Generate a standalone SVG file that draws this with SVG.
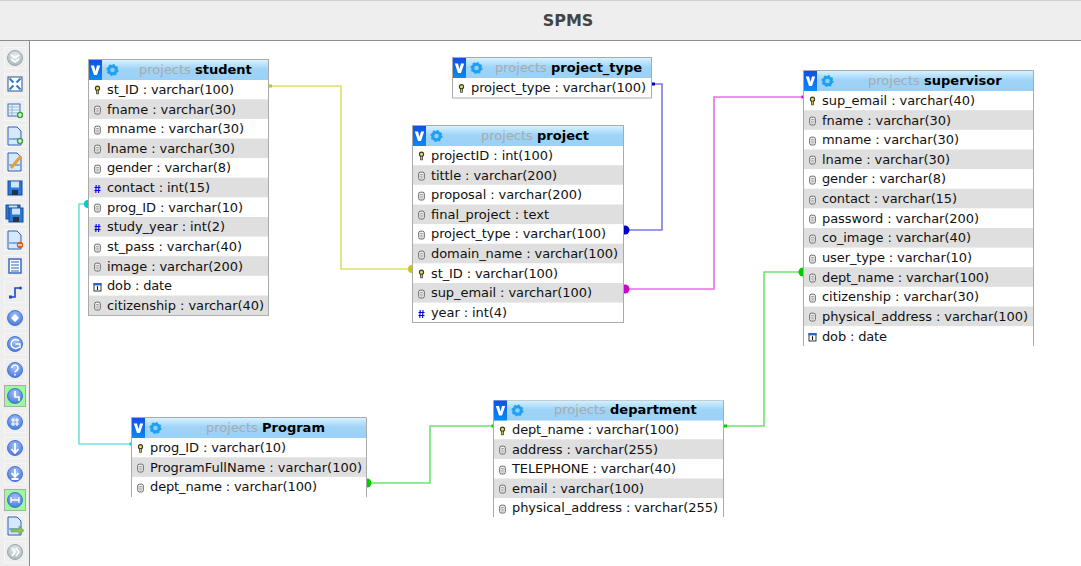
<svg xmlns="http://www.w3.org/2000/svg" width="1081" height="566" viewBox="0 0 1081 566">
<style>
text{font-family:"DejaVu Sans",sans-serif;font-size:13px;fill:#111}
.title{font-size:16px;font-weight:bold;fill:#444;text-anchor:middle}
.hd{fill:#aaa;font-size:13px}
.hd tspan{fill:#000;font-weight:bold}
.box{fill:#fff;stroke:#aaa;stroke-width:1}
.edge{fill:none;stroke:#aaa;stroke-width:1}
.gray{fill:#dfdfdf}
.wire{fill:none;stroke-width:1.6}
.btn{fill:#eee;stroke:#fff;stroke-width:1;stroke-dasharray:1 1}
.on{fill:#99fb99;stroke:#aaa;stroke-width:1}
</style>
<defs>
<linearGradient id="hg" x1="0" y1="0" x2="0" y2="1"><stop offset="0" stop-color="#d6f2ff"/><stop offset=".45" stop-color="#9fd4f8"/><stop offset="1" stop-color="#9bd1f7"/></linearGradient>
<linearGradient id="vg" x1="0" y1="0" x2="0" y2="1"><stop offset="0" stop-color="#0f4fe8"/><stop offset="1" stop-color="#0a8cf4"/></linearGradient>
<radialGradient id="bl" cx=".5" cy=".35" r=".7"><stop offset="0" stop-color="#a9c4f2"/><stop offset="1" stop-color="#3f72d8"/></radialGradient>
<radialGradient id="gy" cx=".5" cy=".35" r=".7"><stop offset="0" stop-color="#e8eeee"/><stop offset="1" stop-color="#a5b3b8"/></radialGradient>
<g id="vb"><rect x="0" y="0" width="13" height="20" fill="url(#vg)"/><path d="M1.8 5.5H5L6.5 11L8 5.5H11.200L8 15H5Z" fill="#fff"/></g>
<g id="gear"><circle r="3.800" fill="#8fd0f8" stroke="#1fa0f0" stroke-width="3"/><circle r="5.400" fill="none" stroke="#1fa0f0" stroke-width="1.300" stroke-dasharray="2 2.200"/></g>
<g id="col"><rect x="-2.800" y="-3.800" width="5.600" height="7.800" rx="1.600" fill="#f4f4f4" stroke="#666" stroke-width="1"/><path d="M-1.300 -1.500H1.300M-1.300 .2H1.300M-1.300 1.900H1.300" stroke="#888" stroke-width=".8"/></g>
<g id="key"><circle cy="-1.800" r="2.100" fill="#e8de50" stroke="#3a3a2a" stroke-width="1.100"/><path d="M0 0V4.200" stroke="#3a3a2a" stroke-width="2.600"/><path d="M0 .5V3.500" stroke="#e8de50" stroke-width=".8"/></g>
<g id="num"><path d="M-1.300 -4L-1.700 4M1.500 -4L1.100 4M-3 -1.500H3M-3 1.500H3" stroke="#0000f0" stroke-width="1.100" fill="none"/></g>
<g id="date"><rect x="-3.500" y="-3.500" width="7" height="7.500" fill="#fff" stroke="#222" stroke-width=".9"/><rect x="-3.900" y="-4" width="7.800" height="2.400" fill="#2a62d8"/><path d="M0 -.8V3" stroke="#111" stroke-width="1.100"/></g>
<g id="page"><path d="M-6 -9H3L7 -5V9H-6Z" fill="#d6e8fb" stroke="#2a62b8" stroke-width="1"/><rect x="-5.500" y="2" width="12" height="2" fill="#7db0ea"/></g>
<g id="rnd"><circle r="7.500" fill="url(#bl)" stroke="#4a78d8" stroke-width="1"/></g>
<g id="rgy"><circle r="7.500" fill="url(#gy)" stroke="#9aa8ad" stroke-width="1"/></g>
<g id="plus"><circle r="3.200" fill="#3fa344"/><path d="M-2 0H2M0 -2V2" stroke="#fff" stroke-width="1.200"/></g>
<g id="floppy"><rect x="-7" y="-7" width="14" height="14" fill="#2a78d8" stroke="#1a4a98" stroke-width="1"/><rect x="-4" y="-6.500" width="8" height="6" fill="#cfe4fa"/><rect x="-3" y="2" width="6" height="5" fill="#234"/></g>
</defs>

<rect width="1081" height="566" fill="#fff"/>
<rect width="1081" height="40" fill="#eeeeee"/>
<rect width="1081" height="1" fill="#cfcfcf"/>
<rect y="40" width="1081" height="1" fill="#8c8c8c"/>
<text class="title" x="568" y="26">SPMS</text>

<g id="toolbar">
<rect y="41" width="29.500" height="525" fill="#eee"/>
<rect x="29" y="41" width="1" height="525" fill="#8c8c8c"/>
<rect class="btn" x="4.500" y="47.500" width="21" height="21"/><use href="#rgy" x="15" y="58"/><path d="M11 55l4 3 4-3M11 59l4 3 4-3" fill="none" stroke="#fff" stroke-width="1.600"/>
<rect class="btn" x="4.500" y="73.500" width="21" height="21"/><rect x="8" y="77" width="14" height="14" fill="#fff" stroke="#33507a" stroke-width="1"/><path d="M9.500 78.500l4 4M20.500 78.500l-4 4M9.500 89.500l4-4M20.500 89.500l-4-4" stroke="#2a78d8" stroke-width="2"/>
<rect class="btn" x="4.500" y="99.500" width="21" height="21"/><rect x="8" y="104" width="12" height="12" fill="#eaf3fb" stroke="#3a70b8" stroke-width="1"/><path d="M8 107H20M8 110H20M8 113H20M12 104V116" stroke="#7fa8d8" stroke-width=".8"/><use href="#plus" x="20" y="115"/>
<rect class="btn" x="4.500" y="125.500" width="21" height="21"/><use href="#page" x="14" y="136"/><use href="#plus" x="20" y="141"/>
<rect class="btn" x="4.500" y="151.500" width="21" height="21"/><use href="#page" x="14" y="162"/><path d="M11 168L21 156" stroke="#e8a030" stroke-width="3"/>
<rect class="btn" x="4.500" y="177.500" width="21" height="21"/><use href="#floppy" x="15" y="188"/>
<rect class="btn" x="4.500" y="203.500" width="21" height="21"/><use href="#floppy" x="13" y="212"/><use href="#floppy" x="16" y="215"/>
<rect class="btn" x="4.500" y="229.500" width="21" height="21"/><use href="#page" x="14" y="240"/><circle cx="20" cy="245" r="3.200" fill="#d8601a"/><path d="M18 245H22" stroke="#fff" stroke-width="1.200"/>
<rect class="btn" x="4.500" y="255.500" width="21" height="21"/><rect x="9" y="259" width="12" height="14" fill="#fff" stroke="#2a62b8" stroke-width="1.400"/><path d="M11 262H19M11 265H19M11 268H19M11 271H19" stroke="#2a62b8" stroke-width="1"/>
<rect class="btn" x="4.500" y="281.500" width="21" height="21"/><path d="M10 297H15V288H20" fill="none" stroke="#1a4ac8" stroke-width="1.600"/><rect x="9" y="295.500" width="3" height="3" fill="#1a4ac8"/><circle cx="20.500" cy="288" r="1.500" fill="#1a4ac8"/>
<rect class="btn" x="4.500" y="307.500" width="21" height="21"/><use href="#rnd" x="15" y="318"/><path d="M15 314l4 4-4 4-4-4Z" fill="#fff"/>
<rect class="btn" x="4.500" y="333.500" width="21" height="21"/><use href="#rnd" x="15" y="344"/><path d="M19 341a4.500 4.500 0 1 0 0 6M15.500 344H20V348" fill="none" stroke="#fff" stroke-width="1.500"/>
<rect class="btn" x="4.500" y="359.500" width="21" height="21"/><use href="#rnd" x="15" y="370"/><path d="M12 368a3 3 0 1 1 4.500 2.600c-1 .6-1.500 1-1.500 2M15 374v1.500" fill="none" stroke="#fff" stroke-width="1.600"/>
<rect class="on" x="4.500" y="385.500" width="21" height="21"/><use href="#rnd" x="15" y="396"/><path d="M15 391V397H19V401" fill="none" stroke="#fff" stroke-width="1.600"/>
<rect class="btn" x="4.500" y="411.500" width="21" height="21"/><use href="#rnd" x="15" y="422"/><path d="M13 418V426M17 418V426M11 420H19M11 424H19" fill="none" stroke="#fff" stroke-width="1.100"/>
<rect class="btn" x="4.500" y="437.500" width="21" height="21"/><use href="#rnd" x="15" y="448"/><path d="M15 443V452M11.500 449L15 453L18.500 449" fill="none" stroke="#fff" stroke-width="1.800"/>
<rect class="btn" x="4.500" y="463.500" width="21" height="21"/><use href="#rnd" x="15" y="474"/><path d="M15 469V476M11.500 473L15 477L18.500 473M11.500 479H18.500" fill="none" stroke="#fff" stroke-width="1.800"/>
<rect class="on" x="4.500" y="489.500" width="21" height="21"/><use href="#rnd" x="15" y="500"/><path d="M11 497V503M19 497V503M11 500H19" fill="none" stroke="#fff" stroke-width="1.300"/>
<rect class="btn" x="4.500" y="515.500" width="21" height="21"/><use href="#page" x="14" y="526"/><path d="M11 529H19V526L24 530.500L19 535V532H11Z" fill="#8fbf5f" stroke="#6a9a40" stroke-width=".6"/>
<rect class="btn" x="4.500" y="541.500" width="21" height="21"/><use href="#rgy" x="15" y="552"/><path d="M12 548l3 4-3 4M16 548l3 4-3 4" fill="none" stroke="#fff" stroke-width="1.600"/>
</g>

<g id="connectors">
<path class="wire" stroke="#dede6a" d="M269 86H341V269H412"/><rect x="269" y="84.500" width="3" height="3" fill="#c8c800"/><circle cx="412" cy="269" r="4" fill="#c8c800"/>
<path class="wire" stroke="#7a7ae6" d="M652 84H662V230H624"/><rect x="652" y="82.500" width="3" height="3" fill="#0000cc"/><circle cx="625" cy="230" r="4.500" fill="#0000cc"/>
<path class="wire" stroke="#e272e2" d="M624 289H714V97H803"/><circle cx="625" cy="289" r="4.500" fill="#cc00cc"/><rect x="801.500" y="95.500" width="2" height="3" fill="#cc00cc"/>
<path class="wire" stroke="#72e2e2" d="M88 204H79V444H131"/><circle cx="88" cy="204" r="4" fill="#00cccc"/><rect x="129.500" y="442.500" width="2" height="3" fill="#00cccc"/>
<path class="wire" stroke="#6ee26e" d="M367 483H430V426H493"/><circle cx="367" cy="483" r="4.500" fill="#00cc00"/><rect x="491.500" y="424.500" width="2" height="3" fill="#00cc00"/>
<path class="wire" stroke="#6ee26e" d="M724 426H764V272H803"/><rect x="724" y="424.500" width="3" height="3" fill="#00cc00"/><circle cx="803" cy="272" r="4.500" fill="#00cc00"/>
</g>

<g id="student">
<rect class="box" x="88.500" y="59.500" width="180" height="256"/>
<rect x="89" y="60" width="179" height="20" fill="url(#hg)"/>
<use href="#vb" x="89" y="60"/><use href="#gear" x="112.500" y="70"/>
<text class="hd" x="139" y="74">projects <tspan>student</tspan></text>
<rect class="gray" x="89" y="99.300" width="179" height="19.600"/><rect class="gray" x="89" y="138.500" width="179" height="19.600"/><rect class="gray" x="89" y="177.700" width="179" height="19.600"/><rect class="gray" x="89" y="217" width="179" height="19.600"/><rect class="gray" x="89" y="256.200" width="179" height="19.600"/><rect class="gray" x="89" y="295.500" width="179" height="19.600"/>
<use href="#key" x="97.500" y="90"/><use href="#col" x="97.500" y="110"/><use href="#col" x="97.500" y="130"/><use href="#col" x="97.500" y="149"/><use href="#col" x="97.500" y="169"/><use href="#num" x="97.500" y="189"/><use href="#col" x="97.500" y="208"/><use href="#num" x="97.500" y="228"/><use href="#col" x="97.500" y="248"/><use href="#col" x="97.500" y="267"/><use href="#date" x="97.500" y="287"/><use href="#col" x="97.500" y="306"/>
<text x="107" y="94" textLength="127">st_ID : varchar(100)</text>
<text x="107" y="114" textLength="129">fname : varchar(30)</text>
<text x="107" y="133" textLength="137">mname : varchar(30)</text>
<text x="107" y="153" textLength="128">lname : varchar(30)</text>
<text x="107" y="172" textLength="124">gender : varchar(8)</text>
<text x="107" y="192" textLength="103">contact : int(15)</text>
<text x="107" y="212" textLength="136">prog_ID : varchar(10)</text>
<text x="107" y="231" textLength="118">study_year : int(2)</text>
<text x="107" y="251" textLength="135">st_pass : varchar(40)</text>
<text x="107" y="271" textLength="136">image : varchar(200)</text>
<text x="107" y="290" textLength="65">dob : date</text>
<text x="107" y="310" textLength="157">citizenship : varchar(40)</text>
</g>

<g id="project_type">
<rect class="box" x="452.500" y="57.500" width="199" height="40.500"/>
<rect x="453" y="58" width="198" height="20" fill="url(#hg)"/>
<use href="#vb" x="453" y="58"/><use href="#gear" x="476.500" y="68"/>
<text class="hd" x="495" y="72">projects <tspan>project_type</tspan></text>
<use href="#key" x="461.500" y="88.500"/>
<text x="471" y="92" textLength="175">project_type : varchar(100)</text>
</g>

<g id="project">
<rect class="box" x="412.500" y="125.500" width="211" height="197"/>
<rect x="413" y="126" width="210" height="20" fill="url(#hg)"/>
<use href="#vb" x="413" y="126"/><use href="#gear" x="436.500" y="136"/>
<text class="hd" x="481" y="140">projects <tspan>project</tspan></text>
<rect class="gray" x="413" y="165.200" width="210" height="19.600"/><rect class="gray" x="413" y="204.500" width="210" height="19.600"/><rect class="gray" x="413" y="243.700" width="210" height="19.600"/><rect class="gray" x="413" y="283" width="210" height="19.600"/>
<use href="#key" x="421.500" y="156"/><use href="#col" x="421.500" y="176"/><use href="#col" x="421.500" y="196"/><use href="#col" x="421.500" y="215"/><use href="#col" x="421.500" y="235"/><use href="#col" x="421.500" y="255"/><use href="#key" x="421.500" y="274"/><use href="#col" x="421.500" y="294"/><use href="#num" x="421.500" y="314"/>
<text x="431" y="160" textLength="122">projectID : int(100)</text>
<text x="431" y="180" textLength="126">tittle : varchar(200)</text>
<text x="431" y="199" textLength="151">proposal : varchar(200)</text>
<text x="431" y="219" textLength="118">final_project : text</text>
<text x="431" y="238" textLength="175">project_type : varchar(100)</text>
<text x="431" y="258" textLength="187">domain_name : varchar(100)</text>
<text x="431" y="278" textLength="127">st_ID : varchar(100)</text>
<text x="431" y="297" textLength="161">sup_email : varchar(100)</text>
<text x="431" y="317" textLength="76">year : int(4)</text>
</g>

<g id="supervisor">
<rect x="804" y="71" width="229" height="275" fill="#fff"/>
<path class="edge" d="M803.500 346V70.500H1033.500V346"/>
<rect x="804" y="71" width="229" height="20" fill="url(#hg)"/>
<use href="#vb" x="804" y="71"/><use href="#gear" x="827.500" y="81"/>
<text class="hd" x="868" y="85">projects <tspan>supervisor</tspan></text>
<rect class="gray" x="804" y="110.200" width="229" height="19.600"/><rect class="gray" x="804" y="149.500" width="229" height="19.600"/><rect class="gray" x="804" y="188.700" width="229" height="19.600"/><rect class="gray" x="804" y="228" width="229" height="19.600"/><rect class="gray" x="804" y="267.200" width="229" height="19.600"/><rect class="gray" x="804" y="306.500" width="229" height="19.600"/>
<use href="#key" x="812.500" y="101"/><use href="#col" x="812.500" y="121"/><use href="#col" x="812.500" y="141"/><use href="#col" x="812.500" y="160"/><use href="#col" x="812.500" y="180"/><use href="#col" x="812.500" y="200"/><use href="#col" x="812.500" y="219"/><use href="#col" x="812.500" y="239"/><use href="#col" x="812.500" y="259"/><use href="#col" x="812.500" y="278"/><use href="#col" x="812.500" y="298"/><use href="#col" x="812.500" y="317"/><use href="#date" x="812.500" y="337"/>
<text x="822" y="105" textLength="153">sup_email : varchar(40)</text>
<text x="822" y="125" textLength="129">fname : varchar(30)</text>
<text x="822" y="144" textLength="137">mname : varchar(30)</text>
<text x="822" y="164" textLength="128">lname : varchar(30)</text>
<text x="822" y="183" textLength="124">gender : varchar(8)</text>
<text x="822" y="203" textLength="135">contact : varchar(15)</text>
<text x="822" y="223" textLength="157">password : varchar(200)</text>
<text x="822" y="242" textLength="149">co_image : varchar(40)</text>
<text x="822" y="262" textLength="150">user_type : varchar(10)</text>
<text x="822" y="282" textLength="167">dept_name : varchar(100)</text>
<text x="822" y="301" textLength="157">citizenship : varchar(30)</text>
<text x="822" y="321" textLength="206">physical_address : varchar(100)</text>
<text x="822" y="341" textLength="65">dob : date</text>
</g>

<g id="Program">
<rect x="132" y="418" width="234" height="79" fill="#fff"/>
<path class="edge" d="M131.500 497V417.500H366.500V497"/>
<rect x="132" y="418" width="234" height="20" fill="url(#hg)"/>
<use href="#vb" x="132" y="418"/><use href="#gear" x="155.500" y="428"/>
<text class="hd" x="206" y="432">projects <tspan>Program</tspan></text>
<rect class="gray" x="132" y="457.300" width="234" height="19.600"/>
<use href="#key" x="140.500" y="448.500"/><use href="#col" x="140.500" y="468"/><use href="#col" x="140.500" y="488"/>
<text x="150" y="452" textLength="136">prog_ID : varchar(10)</text>
<text x="150" y="472" textLength="212">ProgramFullName : varchar(100)</text>
<text x="150" y="491" textLength="167">dept_name : varchar(100)</text>
</g>

<g id="department">
<rect x="494" y="401" width="229" height="116" fill="#fff"/>
<path class="edge" d="M493.500 517V400.500H723.500V517"/>
<rect x="494" y="400.500" width="229" height="20" fill="url(#hg)"/>
<use href="#vb" x="494" y="400.500"/><use href="#gear" x="517.500" y="410.500"/>
<text class="hd" x="554" y="414">projects <tspan>department</tspan></text>
<rect class="gray" x="494" y="439.300" width="229" height="19.600"/><rect class="gray" x="494" y="478.500" width="229" height="19.600"/>
<use href="#key" x="502.500" y="431"/><use href="#col" x="502.500" y="450"/><use href="#col" x="502.500" y="470"/><use href="#col" x="502.500" y="489"/><use href="#col" x="502.500" y="509"/>
<text x="512" y="434" textLength="167">dept_name : varchar(100)</text>
<text x="512" y="454" textLength="146">address : varchar(255)</text>
<text x="512" y="473" textLength="164">TELEPHONE : varchar(40)</text>
<text x="512" y="493" textLength="132">email : varchar(100)</text>
<text x="512" y="512" textLength="206">physical_address : varchar(255)</text>
</g>
</svg>
